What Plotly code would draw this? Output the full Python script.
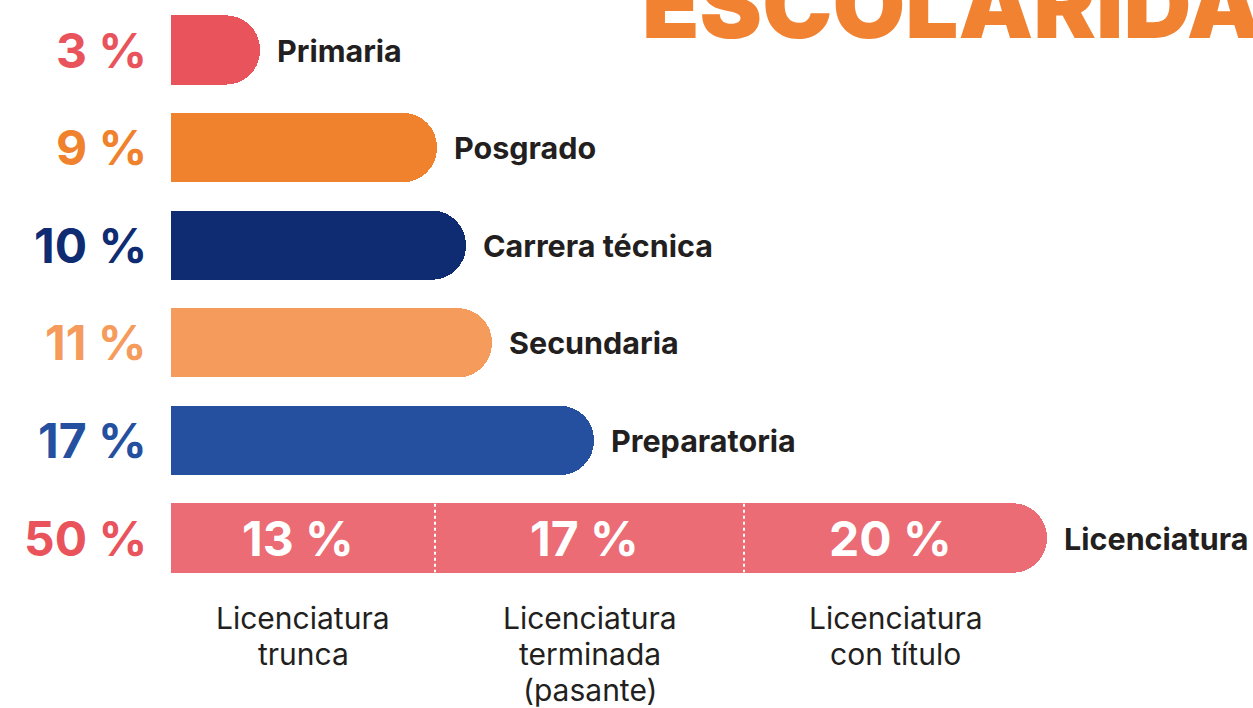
import plotly.graph_objects as go

# ---- data ----
categories = ["Primaria", "Posgrado", "Carrera técnica", "Secundaria", "Preparatoria", "Licenciatura"]
percentages = [3, 9, 10, 11, 17, 50]
# displayed bar lengths (arbitrary length units)
bar_lengths = [89, 266, 295, 321, 423]
bar_colors = ["#E9545C", "#F0812D", "#0F2B72", "#F59B5B", "#25509F"]
label_colors = ["#E9545C", "#F0812D", "#0F2B72", "#F59B5B", "#25509F", "#E9545C"]

sub_labels = [["Licenciatura", "trunca"], ["Licenciatura", "terminada", "(pasante)"], ["Licenciatura", "con título"]]
sub_percentages = [13, 17, 20]
sub_lengths = [264, 309, 303]
lic_color = "#EB6C74"

title_text = "ESCOLARIDAD"

W, H = 1253, 708
X0 = 171  # pixel of bar base

fig = go.Figure()

fig.add_trace(go.Bar(
    y=categories[:5], x=bar_lengths, orientation="h",
    marker=dict(color=bar_colors, line=dict(width=0), cornerradius=34),
    hoverinfo="skip", showlegend=False,
))
for p, l in zip(sub_percentages, sub_lengths):
    fig.add_trace(go.Bar(
        y=[categories[5]], x=[l], orientation="h",
        marker=dict(color=lic_color, line=dict(width=0), cornerradius=34),
        hoverinfo="skip", showlegend=False,
    ))

annotations = []
lengths_all = bar_lengths + [sum(sub_lengths)]
for cat, pct, col, ln in zip(categories, percentages, label_colors, lengths_all):
    annotations.append(dict(
        x=-22, y=cat, xref="x", yref="y", text=f"{pct} %", showarrow=False,
        xanchor="right", yanchor="middle",
        font=dict(family="Inter", size=48, color=col, weight=700),
    ))
    annotations.append(dict(
        x=ln + 15, y=cat, xref="x", yref="y", text=cat, showarrow=False,
        xanchor="left", yanchor="middle",
        font=dict(family="Inter", size=30.5, color="#231F20", weight=700),
    ))

cum = 0
shapes = []
for i, (p, l, lab) in enumerate(zip(sub_percentages, sub_lengths, sub_labels)):
    center = cum + l / 2
    annotations.append(dict(
        x=center - 5, y=categories[5], xref="x", yref="y", text=f"{p} %", showarrow=False,
        xanchor="center", yanchor="middle",
        font=dict(family="Inter", size=48, color="white", weight=700),
    ))
    for j, line in enumerate(lab):
        annotations.append(dict(
            x=center, y=1 - (618 + 36 * j) / H, xref="x", yref="paper", text=line,
            showarrow=False, xanchor="center", yanchor="middle",
            font=dict(family="Inter", size=30, color="#231F20"),
        ))
    cum += l
    if i < len(sub_lengths) - 1:
        shapes.append(dict(
            type="line", xref="x", yref="y", x0=cum, x1=cum,
            y0=5 - 0.35, y1=5 + 0.35,
            line=dict(color="white", width=2, dash="dot"),
        ))

annotations.append(dict(
    x=640 / W, y=1 - 63 / H, xref="paper", yref="paper", text=title_text,
    showarrow=False, xanchor="left", yanchor="bottom",
    font=dict(family="Inter", size=94, color="#F08231", weight=900),
))

step = 97.6
fig.update_layout(
    width=W, height=H,
    margin=dict(l=0, r=0, t=0, b=0),
    paper_bgcolor="white", plot_bgcolor="white",
    barmode="stack", bargap=0.29,
    xaxis=dict(range=[-X0, W - X0], visible=False, fixedrange=True),
    yaxis=dict(type="category", categoryorder="array", categoryarray=categories,
               range=[5 + (H - 538) / step, -50 / step], visible=False, fixedrange=True),
    annotations=annotations, shapes=shapes,
)

fig.write_html("out.html", config={"displayModeBar": False},
               post_script="document.body.style.margin='0';document.body.style.overflow='hidden';")
